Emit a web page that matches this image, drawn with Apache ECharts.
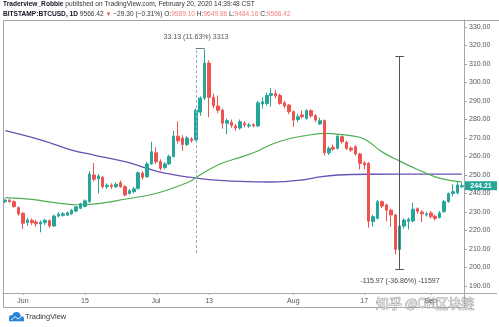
<!DOCTYPE html>
<html><head><meta charset="utf-8">
<script src="https://cdn.jsdelivr.net/npm/echarts@6/dist/echarts.min.js"></script>
<style>html,body{margin:0;padding:0;background:#fff}#c{width:499px;height:327px}</style>
</head><body><div id="c"></div>
<script>
// categories: daily candles
const dates = ['5/28','5/29','5/30','5/31',
'6/1','6/2','6/3','6/4','6/5','6/6','6/7','6/8','6/9','6/10','6/11','6/12','6/13','6/14','6/15','6/16','6/17','6/18','6/19','6/20','6/21','6/22','6/23','6/24','6/25','6/26','6/27','6/28','6/29','6/30',
'7/1','7/2','7/3','7/4','7/5','7/6','7/7','7/8','7/9','7/10','7/11','7/12','7/13','7/14','7/15','7/16','7/17','7/18','7/19','7/20','7/21','7/22','7/23','7/24','7/25','7/26','7/27','7/28','7/29','7/30','7/31',
'8/1','8/2','8/3','8/4','8/5','8/6','8/7','8/8','8/9','8/10','8/11','8/12','8/13','8/14','8/15','8/16','8/17','8/18','8/19','8/20','8/21','8/22','8/23','8/24','8/25','8/26','8/27','8/28','8/29','8/30','8/31',
'9/1','9/2','9/3','9/4','9/5','9/6','9/7','9/8'];
// [open, close, low, high]
const ohlc = [
[235.6,236.4,234.8,237.2],[236.4,235.6,234.9,237.0],[235.6,232.9,232.3,236.2],[232.3,228.9,228.0,233.0],
[229.3,223.9,220.8,230.0],[224.3,225.7,222.5,226.8],[225.5,224.2,223.0,226.5],[224.6,223.6,222.0,225.8],
[223.5,224.5,219.0,225.5],[224.2,225.5,223.0,226.3],[225.3,222.4,221.5,226.0],[222.4,227.8,222.0,228.5],
[227.8,228.8,227.0,230.0],[228.2,229.0,227.5,230.0],[228.3,229.6,227.8,230.2],[229.0,231.0,228.5,231.5],
[230.5,232.8,229.8,233.2],[232.0,234.5,231.5,235.0],[233.0,236.0,232.5,236.8],[235.6,250.5,235.0,252.0],
[250.0,247.7,246.5,256.5],[248.0,249.5,240.0,250.5],[248.8,243.7,242.8,249.5],[243.7,244.5,242.5,245.5],
[244.5,243.8,242.5,245.5],[243.7,245.0,243.0,246.0],[245.8,243.7,243.0,247.0],[243.7,239.2,238.5,244.5],
[240.0,241.5,239.5,242.5],[241.0,242.5,240.2,243.5],[242.8,251.2,242.0,252.0],[251.0,248.8,247.5,252.0],
[249.0,256.0,248.5,257.0],[256.0,262.6,255.5,268.0],[262.0,257.2,256.0,265.0],[257.2,253.6,252.5,258.5],
[254.0,256.0,253.0,257.0],[256.0,260.0,255.5,261.0],[260.0,271.0,259.5,274.0],[271.0,268.5,267.0,279.0],
[270.0,266.5,263.0,271.5],[266.5,270.0,265.5,271.0],[269.5,268.5,267.5,270.5],[269.0,285.0,268.5,286.0],
[284.0,291.6,282.0,292.5],[291.6,310.5,290.5,318.0],[310.5,292.0,281.3,312.0],[292.0,287.5,286.0,294.0],
[287.3,285.0,283.5,293.0],[285.0,278.0,275.0,286.0],[278.0,279.4,272.0,280.5],[278.5,276.8,275.5,280.0],
[276.5,275.4,274.0,277.5],[275.4,278.8,274.5,280.0],[278.0,277.0,275.8,279.0],[276.5,277.0,275.5,278.2],
[277.2,276.6,275.8,278.0],[276.5,289.0,276.0,290.0],[288.4,289.6,286.0,292.0],[288.7,293.0,287.5,294.5],
[293.0,294.0,287.0,297.0],[294.0,292.8,291.5,296.0],[293.0,288.7,288.0,294.0],[289.0,287.3,286.0,290.0],
[287.8,284.2,283.0,288.5],[284.2,279.7,276.0,285.0],[280.0,281.5,278.5,283.0],[282.5,281.5,280.5,285.0],
[280.6,284.8,280.0,285.5],[284.8,282.0,281.0,285.5],[282.0,279.7,278.5,283.0],[277.6,279.4,277.0,281.0],
[279.4,262.0,260.5,280.0],[262.0,264.4,260.8,265.5],[265.0,264.0,263.0,266.5],[264.4,271.0,263.8,271.5],
[270.7,268.0,267.0,271.2],[267.7,264.4,263.5,268.5],[264.5,263.5,262.5,265.5],[265.3,261.4,260.5,266.0],
[261.4,256.3,253.0,262.0],[256.5,255.5,253.0,257.5],[256.3,225.0,221.4,257.0],[224.8,227.5,222.0,228.5],
[226.6,235.6,226.0,236.5],[235.6,233.2,232.0,236.2],[233.8,231.0,225.0,234.5],[231.0,228.4,222.0,231.8],
[228.4,209.8,207.0,229.0],[209.8,222.4,207.0,223.0],[222.4,225.7,221.0,226.5],[225.0,226.0,220.5,227.0],
[225.1,231.5,224.5,235.0],[231.8,230.4,229.0,232.5],[230.0,229.0,224.5,231.0],[228.5,229.0,227.5,230.0],
[229.5,227.5,226.5,230.5],[227.7,226.5,225.5,228.5],[227.0,229.5,226.5,230.5],[230.2,235.6,229.5,236.5],
[235.6,240.0,235.0,240.5],[240.0,241.0,238.5,245.0],[240.4,244.6,239.5,246.5],[243.6,244.21,243.0,246.0]
];
// moving averages: [candle index, value]
const maGreen = [[0,237.8],[6,236.8],[12,234.8],[17,233.9],[21,234.5],[27,236.9],[34,240],[41,245.8],[43,248.5],[46,253],[49,256.5],[53,259.5],[57,263],[60,266.5],[64,269.6],[67,271],[72,272.5],[76,271.8],[80,270.4],[82,268],[85,262.5],[89,257.5],[93,253],[97,249],[100,247.2],[103,246.3]];
const maPurple = [[0,274],[8,269],[15,263.5],[20,260.8],[27,257.2],[32,253.6],[36,251],[41,249],[46,247.5],[53,246.5],[60,246.2],[67,247.3],[71,249],[75,250],[82,250.4],[103,250.5]];
const priceTicks = [190,200,210,220,230,240,250,260,270,280,290,300,310,320,330];
const dateTickLabels = {'6/1':'Jun','6/15':'15','7/1':'Jul','7/13':'13','8/1':'Aug','8/17':'17','9/1':'Sep'};
const lastPrice = 244.21;
const upMeasure = {idx:43, idx2:45, from:207.8, to:318.3, text:'33.13 (11.63%) 3313'};
const downMeasure = {idx:89, from:314.3, to:199.2, text:'-115.97 (-36.86%) -11597'};

const UP='#26a69a', DOWN='#ef5350', FR='#a3a6ad';
const chart = echarts.init(document.getElementById('c'));
const lineItem = (a,b,style)=>[{coord:a,lineStyle:style},{coord:b}];
const ml = [
  lineItem([dates[upMeasure.idx],upMeasure.from],[dates[upMeasure.idx],upMeasure.to],{color:'#8aaed0',type:[3,2],width:1}),
  lineItem([dates[upMeasure.idx],upMeasure.to],[dates[upMeasure.idx2],upMeasure.to],{color:'#777',type:'solid',width:1}),
  lineItem([dates[downMeasure.idx],downMeasure.from],[dates[downMeasure.idx],downMeasure.to],{color:'#555',type:'solid',width:1}),
  lineItem([dates[downMeasure.idx-1],downMeasure.from],[dates[downMeasure.idx+1],downMeasure.from],{color:'#555',type:'solid',width:1}),
  lineItem([dates[downMeasure.idx-1],downMeasure.to],[dates[downMeasure.idx+1],downMeasure.to],{color:'#555',type:'solid',width:1})
];
const F = 'Liberation Sans, Arial, sans-serif';
chart.setOption({
  animation:false,
  backgroundColor:'#fff',
  grid:{left:3,right:35,top:20,bottom:34},
  xAxis:{type:'category',data:dates,boundaryGap:true,
    axisLine:{show:true,lineStyle:{color:FR,width:1}},
    axisTick:{show:true,length:2,alignWithLabel:true,interval:(i,v)=>v in dateTickLabels,lineStyle:{color:FR}},
    axisLabel:{interval:(i,v)=>v in dateTickLabels,formatter:v=>dateTickLabels[v]||'',fontSize:7,color:'#555',margin:5,fontFamily:F},
    splitLine:{show:false}},
  yAxis:{type:'value',position:'right',min:186.2,max:333.8,
    axisLine:{show:true,lineStyle:{color:FR}},
    axisTick:{show:true,length:3,customValues:priceTicks,lineStyle:{color:FR}},
    axisLabel:{customValues:priceTicks,formatter:v=>v.toFixed(2),fontSize:7,color:'#555',margin:5,fontFamily:F},
    splitLine:{show:false}},
  series:[
    {type:'line',data:maPurple.map(p=>[dates[p[0]],p[1]]),smooth:0.4,symbol:'none',lineStyle:{color:'#6a51b5',width:1.3},z:2},
    {type:'line',data:maGreen.map(p=>[dates[p[0]],p[1]]),smooth:0.4,symbol:'none',lineStyle:{color:'#4caf50',width:1.2},z:2},
    {type:'candlestick',data:ohlc,barWidth:'68%',z:3,
      itemStyle:{color:UP,color0:DOWN,borderColor:UP,borderColor0:DOWN,borderWidth:1},
      markLine:{silent:true,symbol:['none','none'],label:{show:false},data:ml,animation:false}}
  ]
});

const yLast = chart.convertToPixel({yAxisIndex:0}, lastPrice);
chart.setOption({graphic:[
  {type:'text',left:3,top:1,style:{text:'{b|Traderview_Robbie} published on TradingView.com, February 20, 2020 14:39:48 CST',font:'6.6px '+F,fill:'#333',
    rich:{b:{fontWeight:'bold',fontSize:6.6,fontFamily:F,fill:'#131722'}}}},
  {type:'text',left:3,top:11,style:{text:'{b|BITSTAMP:BTCUSD, 1D} 9566.42 {r|▼} −29.30 (−0.31%) O:{p|9589.10} H:{p|9649.86} L:{p|9484.16} C:{p|9566.42}',font:'6.6px '+F,fill:'#333',
    rich:{b:{fontWeight:'bold',fontSize:6.6,fontFamily:F,fill:'#131722'},r:{fill:'#ef5350',fontSize:6,fontFamily:F},p:{fill:'#f0807f',fontSize:6.6,fontFamily:F}}}},
  {type:'line',shape:{x1:3.5,y1:20,x2:3.5,y2:307},style:{stroke:FR,lineWidth:1}},
  {type:'line',shape:{x1:3,y1:20.5,x2:499,y2:20.5},style:{stroke:FR,lineWidth:1}},
  {type:'line',shape:{x1:3,y1:307.5,x2:464,y2:307.5},style:{stroke:FR,lineWidth:1}},
  {type:'line',shape:{x1:464.5,y1:293,x2:464.5,y2:307.5},style:{stroke:FR,lineWidth:1}},
  {type:'line',shape:{x1:464,y1:293.5,x2:497,y2:293.5},style:{stroke:FR,lineWidth:1}},
  {type:'rect',shape:{x:465,y:yLast-4.5,width:32,height:9},style:{fill:UP}},
  {type:'text',x:481,y:yLast,style:{text:lastPrice.toFixed(2),fill:'#fff',font:'bold 7px '+F,align:'center',verticalAlign:'middle'}},
  {type:'text',x:196,y:37,style:{text:upMeasure.text,fill:'#555',font:'7px '+F,align:'center',verticalAlign:'middle'}},
  {type:'text',x:400,y:281.5,style:{text:downMeasure.text,fill:'#444',font:'7px '+F,align:'center',verticalAlign:'middle'}},
  {type:'text',x:376,y:303,style:{text:'知乎 @OK区块链',fill:'rgba(235,235,235,0.85)',stroke:'rgba(110,110,110,0.7)',lineWidth:0.8,font:'13px "Noto Sans CJK SC"',verticalAlign:'middle'}},
  {type:'group',children:[
    {type:'circle',shape:{cx:12,cy:318,r:3},style:{fill:'#2a83d8'}},
    {type:'circle',shape:{cx:16.5,cy:316,r:4},style:{fill:'#2a83d8'}},
    {type:'circle',shape:{cx:21,cy:318.5,r:2.8},style:{fill:'#2a83d8'}},
    {type:'rect',shape:{x:9,y:318,width:15,height:3.3},style:{fill:'#2a83d8'}},
    {type:'polyline',shape:{points:[[11,320],[15,316.5],[18,319],[22,316]]},style:{stroke:'#fff',lineWidth:0.9,fill:null}}
  ]},
  {type:'text',left:25,top:313,style:{text:'TradingView',fill:'#333',font:'7.5px '+F}}
]});
</script></body></html>
